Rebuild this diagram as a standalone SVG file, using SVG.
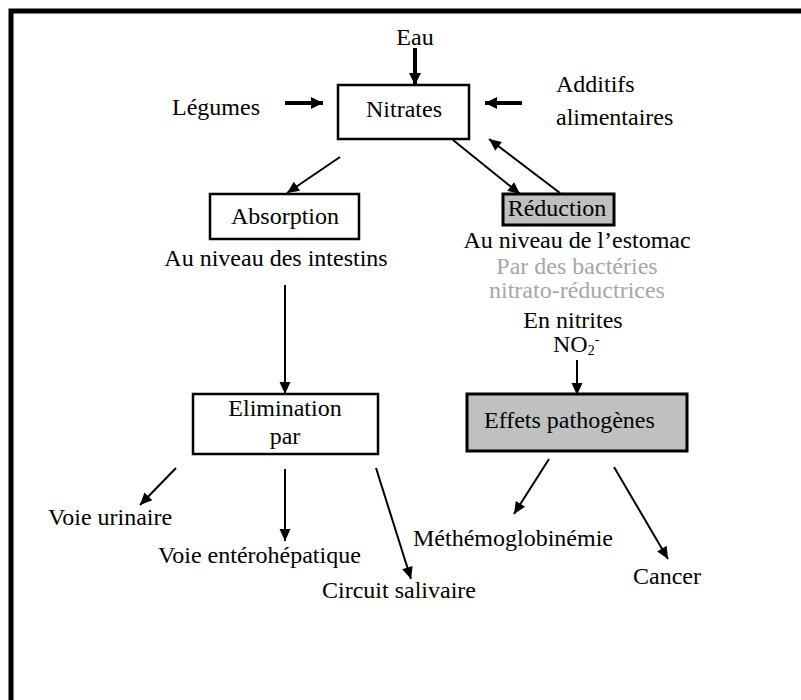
<svg xmlns="http://www.w3.org/2000/svg" width="801" height="700" viewBox="0 0 801 700">
<style>
text{font-family:"Liberation Serif","Times New Roman",serif;font-size:24px;fill:#000}
.c{text-anchor:middle}
.g{fill:#a6a6a6}
.box{fill:#fff;stroke:#000;stroke-width:2.5}
.gbox{fill:#c0c0c0;stroke:#000;stroke-width:3}
.thin{stroke:#000;stroke-width:2;fill:none;marker-end:url(#ah)}
.thick{stroke:#000;stroke-width:4;fill:none;marker-end:url(#ahb)}
</style>
<defs>
<marker id="ah" markerUnits="userSpaceOnUse" markerWidth="14" markerHeight="14" viewBox="0 0 14 14" refX="13" refY="7" orient="auto"><path d="M1,1.5 L13,7 L1,12.5 Z" fill="#000"/></marker>
<marker id="ahb" markerUnits="userSpaceOnUse" markerWidth="14" markerHeight="14" viewBox="0 0 14 14" refX="13" refY="7" orient="auto"><path d="M1,1 L13,7 L1,13 Z" fill="#000"/></marker>
</defs>
<rect width="801" height="700" fill="#fff"/>
<path d="M11,700 V11 H801" fill="none" stroke="#000" stroke-width="5"/>

<g id="connectors">
<line class="thick" x1="415" y1="48" x2="415" y2="85"/>
<line class="thick" x1="285" y1="103" x2="323" y2="103"/>
<line class="thick" x1="522" y1="103" x2="485" y2="103"/>
<line class="thin" x1="340" y1="157" x2="287" y2="193"/>
<line class="thin" x1="453" y1="140" x2="520" y2="194"/>
<line class="thin" x1="560" y1="193" x2="489" y2="139"/>
<line class="thin" x1="285" y1="285" x2="285" y2="394"/>
<line class="thin" x1="176" y1="468" x2="140" y2="505"/>
<line class="thin" x1="285" y1="469" x2="285" y2="541"/>
<line class="thin" x1="376" y1="468" x2="411" y2="579"/>
<line class="thin" x1="577" y1="360" x2="577" y2="395"/>
<line class="thin" x1="549" y1="459" x2="514" y2="514"/>
<line class="thin" x1="614" y1="467" x2="668" y2="559"/>
</g>

<g id="eau"><text class="c" x="415" y="45">Eau</text></g>
<g id="legumes"><text x="172" y="115">Légumes</text></g>
<g id="additifs"><text x="556" y="92">Additifs</text><text x="556" y="125">alimentaires</text></g>
<g id="nitrates"><rect class="box" x="338" y="85" width="131" height="54"/><text class="c" x="404" y="117">Nitrates</text></g>
<g id="absorption"><rect class="box" x="210" y="194" width="149" height="45"/><text class="c" x="285" y="224">Absorption</text>
<text class="c" x="276" y="266">Au niveau des intestins</text></g>
<g id="elimination"><rect class="box" x="193" y="394" width="185" height="60"/><text class="c" x="285" y="416">Elimination</text><text class="c" x="285" y="444">par</text></g>
<g id="voie-urinaire"><text x="48" y="525">Voie urinaire</text></g>
<g id="voie-entero"><text x="158" y="563">Voie entérohépatique</text></g>
<g id="circuit-salivaire"><text x="322" y="598">Circuit salivaire</text></g>
<g id="reduction"><rect class="gbox" x="503" y="194" width="111" height="31"/><text class="c" x="557" y="216">Réduction</text>
<text class="c" x="577" y="248">Au niveau de l’estomac</text>
<text class="c g" x="577" y="274">Par des bactéries</text>
<text class="c g" x="577" y="298">nitrato-réductrices</text>
<text class="c" x="573" y="328">En nitrites</text>
<text x="553" y="352">NO<tspan font-size="14" dy="3">2</tspan><tspan font-size="14" dy="-11">-</tspan></text></g>
<g id="effets"><rect class="gbox" x="467" y="394" width="220" height="57"/><text x="484" y="428">Effets pathogènes</text></g>
<g id="methemo"><text x="413" y="546">Méthémoglobinémie</text></g>
<g id="cancer"><text x="633" y="584">Cancer</text></g>
</svg>
